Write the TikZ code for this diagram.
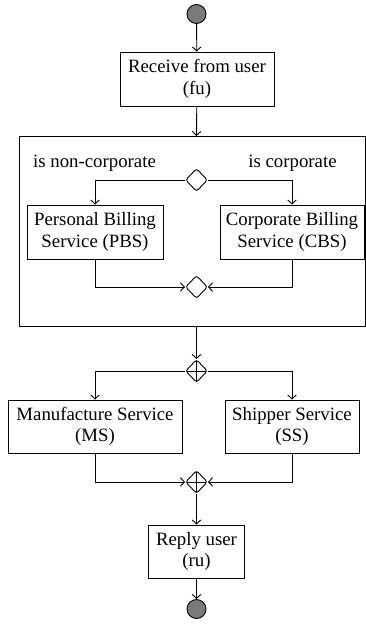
\documentclass[tikz,border=0pt]{standalone}
\usepackage{fontspec}
\setmainfont{Liberation Serif}
\usetikzlibrary{shapes.geometric,arrows.meta}
\begin{document}
\begin{tikzpicture}[x=1pt,y=-1pt,
  font=\fontsize{18.8}{21.7}\selectfont,
  every path/.style={line width=0.9pt},
  act/.style={draw, rectangle, align=center, inner sep=0pt},
  gate/.style={draw, diamond, rounded corners=2.5pt, minimum width=22pt, minimum height=23pt, inner sep=0pt},
  pgate/.style={gate, path picture={
     \draw[line width=0.9pt] (path picture bounding box.north) -- (path picture bounding box.south);
     \draw[line width=0.9pt] (path picture bounding box.west) -- (path picture bounding box.east);}},
  term/.style={circle, draw, fill=black!52, minimum size=19pt, inner sep=0pt},
  flow/.style={-{Straight Barb[length=4pt,width=8.5pt]}},
  lbl/.style={anchor=base, inner sep=0pt}]
\useasboundingbox (0,0) rectangle (366,630);
% container
\draw (19,136) rectangle (365,326);
\coordinate (ctop) at (196.5,136);
\coordinate (cbot) at (196.5,326);
% nodes
\node[term] (start) at (196.5,14) {};
\node[act, minimum width=154pt, minimum height=54pt] (recv) at (197,79) {Receive from user\\(fu)};
\node[gate] (dtop) at (196.5,180) {};
\node[lbl] (lnc) at (94.5,167) {is non-corporate};
\node[lbl] (lc) at (292.5,167) {is corporate};
\node[act, minimum width=136pt, minimum height=54pt] (pbs) at (95,232) {Personal Billing\\Service (PBS)};
\node[act, minimum width=144pt, minimum height=54pt] (cbs) at (292,232) {Corporate Billing\\Service (CBS)};
\node[gate] (dmerge) at (196.5,287) {};
\node[pgate] (fork) at (196.5,371) {};
\node[act, minimum width=174pt, minimum height=53pt] (ms) at (95,426.5) {Manufacture Service\\(MS)};
\node[act, minimum width=134pt, minimum height=53pt] (ss) at (292,426.5) {Shipper Service\\(SS)};
\node[pgate] (join) at (196.5,482) {};
\node[act, minimum width=96pt, minimum height=53pt] (reply) at (196.5,551.5) {Reply user\\(ru)};
\node[term] (end) at (196.5,609) {};
% connectors
\draw[flow] (start) -- (recv);
\draw[flow] (recv) -- (ctop);
\draw[flow] (dtop.west) -| (pbs.north);
\draw[flow] (dtop.east) -| (cbs.north);
\draw[flow] (pbs.south) |- (dmerge.west);
\draw[flow] (cbs.south) |- (dmerge.east);
\draw[flow] (cbot) -- (fork.north);
\draw[flow] (fork.west) -| (ms.north);
\draw[flow] (fork.east) -| (ss.north);
\draw[flow] (ms.south) |- (join.west);
\draw[flow] (ss.south) |- (join.east);
\draw[flow] (join) -- (reply);
\draw[flow] (reply) -- (end);
\end{tikzpicture}
\end{document}
